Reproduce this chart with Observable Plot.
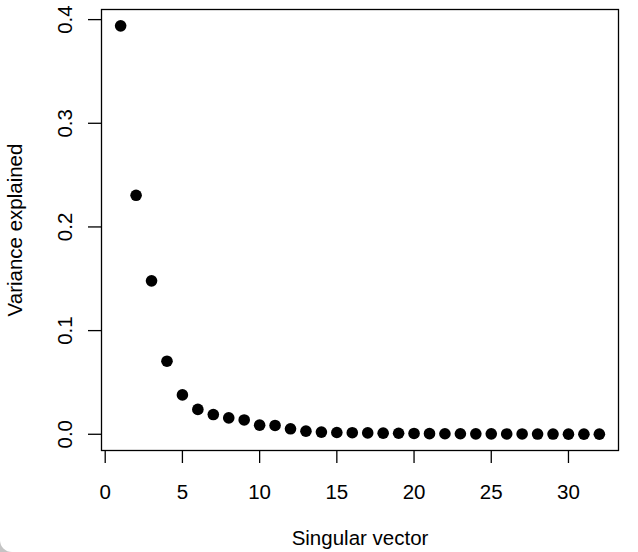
<!DOCTYPE html>
<html>
<head>
<meta charset="utf-8">
<script src="https://cdn.jsdelivr.net/npm/d3@7"></script>
<script src="https://cdn.jsdelivr.net/npm/@observablehq/plot@0.6"></script>
<style>
  html, body { margin: 0; padding: 0; background: #c4c4c4; }
  #wrap { width: 638px; height: 552px; background: #fff; border-bottom-left-radius: 12px; overflow: hidden; }
  svg { display: block; }
</style>
</head>
<body>
<div id="wrap"></div>
<script>
const vectorIndex = d3.range(1, 33);
const varianceExplained = [0.394, 0.2305, 0.148, 0.0705, 0.038, 0.024, 0.019, 0.0158,
  0.0138, 0.0088, 0.0085, 0.0053, 0.003, 0.0021, 0.0017, 0.0015,
  0.0013, 0.0011, 0.001, 0.0008, 0.0006, 0.0005, 0.0005, 0.0004,
  0.0004, 0.0003, 0.0003, 0.0002, 0.0002, 0.0001, 0.0001, 0.0001];
const xTicks = [0, 5, 10, 15, 20, 25, 30];
const yTicks = [0.0, 0.1, 0.2, 0.3, 0.4];
const xTitle = "Singular vector";
const yTitle = "Variance explained";

const data = vectorIndex.map((x, i) => ({x, y: varianceExplained[i]}));

// R-style 4% axis extension
const ext = (lo, hi) => { const p = (hi - lo) * 0.04; return [lo - p, hi + p]; };
const xDom = ext(d3.min(vectorIndex), d3.max(vectorIndex));
const yDom = ext(d3.min(varianceExplained), d3.max(varianceExplained));

const font = "'Liberation Sans', Arial, Helvetica, sans-serif";
const fs = 20.5;

const chart = Plot.plot({
  width: 638,
  height: 552,
  marginLeft: 101,
  marginRight: 20,
  marginTop: 9,
  marginBottom: 102,
  style: {fontFamily: font, fontSize: fs + "px", background: "transparent", color: "#000"},
  x: {domain: xDom, axis: null},
  y: {domain: yDom, axis: null},
  marks: [
    Plot.frame({stroke: "#000", strokeWidth: 1.3}),
    Plot.axisX({ticks: xTicks, tickSize: 13, tickFormat: () => "", label: null, strokeWidth: 1.3, anchor: "bottom"}),
    Plot.axisY({ticks: yTicks, tickSize: 13, tickFormat: () => "", label: null, strokeWidth: 1.3, anchor: "left"}),
    Plot.text(xTicks, {x: d => d, frameAnchor: "bottom", dy: 42, text: d => String(d), lineAnchor: "middle", textAnchor: "middle", fontSize: fs}),
    Plot.text(yTicks, {y: d => d, frameAnchor: "left", dx: -36, text: d => d.toFixed(1), rotate: -90, lineAnchor: "middle", textAnchor: "middle", fontSize: fs}),
    Plot.text([xTitle], {frameAnchor: "bottom", dy: 88, text: d => d, lineAnchor: "middle", textAnchor: "middle", fontSize: fs}),
    Plot.text([yTitle], {frameAnchor: "left", dx: -86, text: d => d, rotate: -90, lineAnchor: "middle", textAnchor: "middle", fontSize: fs}),
    Plot.dot(data, {x: "x", y: "y", r: 5.8, fill: "#000", stroke: "none"})
  ]
});
document.getElementById("wrap").appendChild(chart);
</script>
</body>
</html>
